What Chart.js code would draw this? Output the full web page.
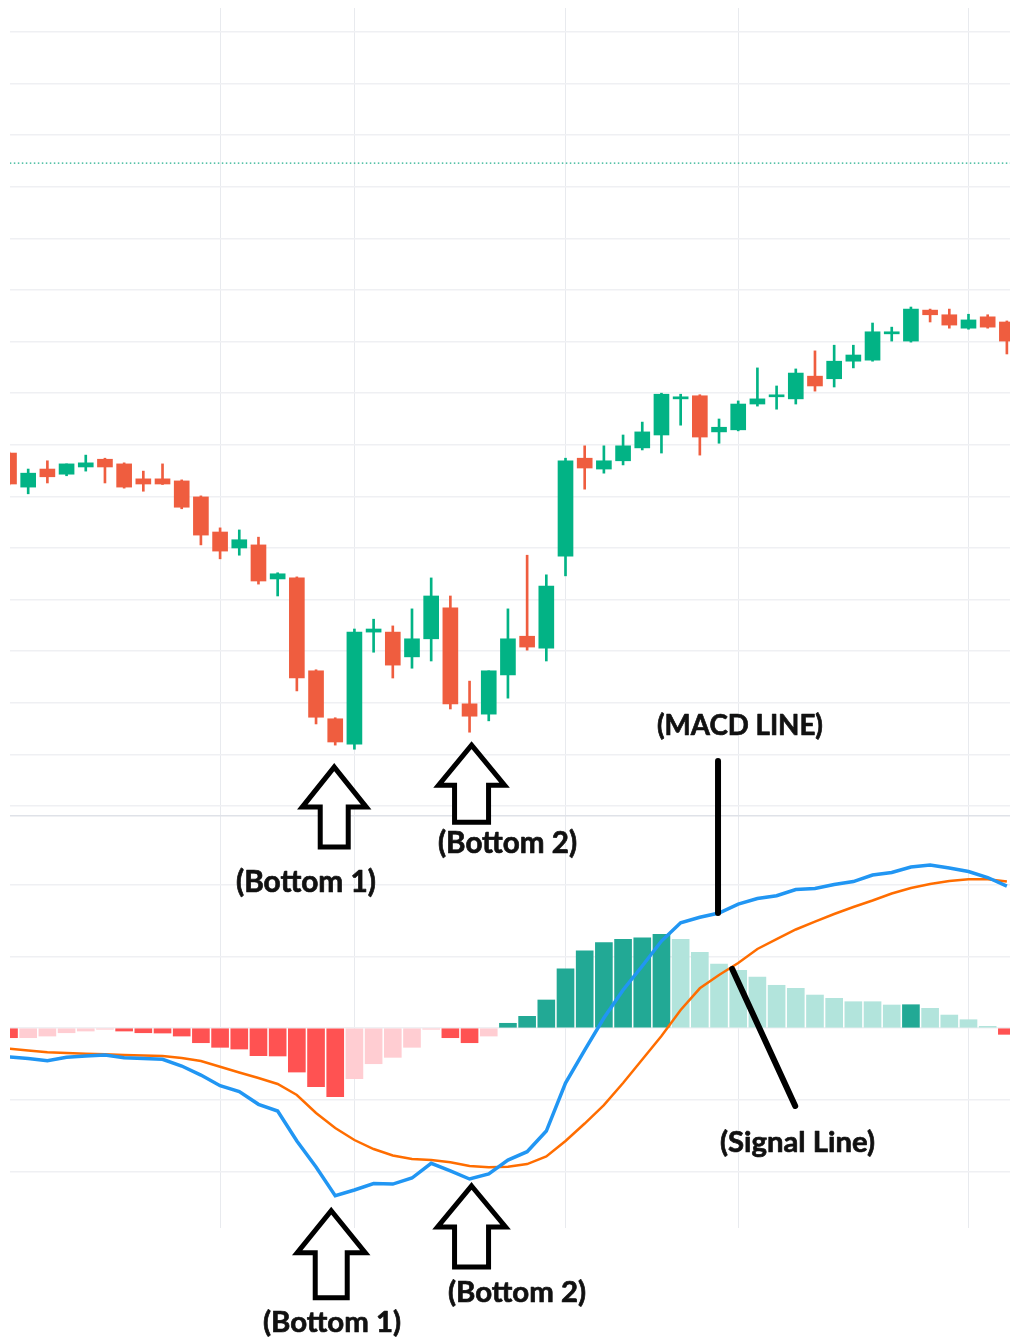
<!DOCTYPE html>
<html>
<head>
<meta charset="utf-8">
<script src="https://cdn.jsdelivr.net/npm/chart.js@4.4.1/dist/chart.umd.min.js"></script>
<style>
  html, body { margin: 0; padding: 0; background: #fff; }
  canvas { display: block; }
</style>
</head>
<body>
<canvas id="canvas" width="1010" height="1343"></canvas>
<script>
// daily candles, price axis in arbitrary units
const opens  = [118.4, 111.8, 115.3, 114.3, 115.7, 117.2, 116.3, 113.4, 113.4, 113.0,
                109.9, 103.1, 100.0, 100.6, 94.0, 94.2, 76.2, 66.9, 62.0, 83.7,
                83.7, 78.9, 82.4, 88.4, 69.8, 67.8, 75.4, 82.9, 80.6, 98.4,
                117.4, 115.3, 116.9, 119.4, 121.9, 128.9, 129.5, 122.5, 122.9, 127.9,
                129.3, 128.9, 133.3, 132.8, 136.2, 136.4, 141.5, 140.1, 146.1, 145.2,
                142.6, 144.8, 143.8];
const highs  = [118.6, 115.3, 116.9, 116.3, 118.0, 117.4, 116.5, 114.9, 116.3, 113.2,
                110.1, 103.9, 103.5, 102.1, 95.2, 94.4, 76.4, 67.1, 84.3, 86.2,
                84.9, 88.2, 94.2, 90.7, 74.2, 76.2, 88.2, 98.6, 94.8, 117.4,
                119.8, 119.8, 121.9, 124.4, 130.0, 129.8, 129.7, 125.0, 128.5, 134.9,
                131.4, 134.7, 138.2, 139.3, 139.3, 143.6, 142.8, 146.7, 146.3, 146.3,
                145.3, 145.2, 144.0];
const lows   = [112.2, 110.5, 112.6, 114.0, 114.9, 112.6, 111.6, 111.0, 112.3, 107.6,
                100.6, 97.9, 98.6, 93.0, 90.7, 72.3, 65.9, 61.8, 61.0, 79.8,
                74.8, 76.7, 78.1, 68.8, 64.3, 66.5, 70.9, 80.2, 78.1, 94.6,
                111.4, 114.5, 116.1, 119.0, 118.4, 123.8, 118.0, 120.3, 122.7, 127.5,
                126.9, 127.9, 130.4, 131.2, 134.9, 136.2, 140.1, 139.9, 143.8, 142.6,
                142.4, 142.6, 137.6];
const closes = [112.4, 114.5, 113.8, 116.3, 116.5, 115.7, 111.8, 112.4, 112.4, 107.9,
                102.5, 99.4, 101.6, 93.6, 95.0, 74.8, 67.2, 62.4, 83.7, 84.3,
                77.3, 82.4, 90.7, 69.8, 67.4, 76.2, 82.4, 80.8, 92.6, 116.9,
                115.5, 116.9, 119.8, 122.5, 129.8, 129.3, 121.5, 123.4, 127.9, 128.9,
                129.5, 133.9, 131.4, 136.2, 137.4, 141.9, 141.9, 146.3, 145.2, 143.2,
                144.2, 142.8, 140.1];

// MACD panel
const macdLine   = [-0.404, -0.425, -0.456, -0.409, -0.391, -0.377, -0.414, -0.425, -0.437, -0.530,
                    -0.656, -0.805, -0.886, -1.064, -1.158, -1.576, -1.939, -2.339, -2.259, -2.169,
                    -2.176, -2.092, -1.887, -1.994, -2.106, -2.036, -1.841, -1.725, -1.437, -0.767,
                    -0.307, 0.139, 0.530, 0.865, 1.213, 1.469, 1.544, 1.604, 1.729, 1.806,
                    1.845, 1.932, 1.946, 2.001, 2.043, 2.134, 2.169, 2.245, 2.273, 2.232,
                    2.183, 2.099, 1.980];
const signalLine = [-0.286, -0.314, -0.339, -0.349, -0.360, -0.367, -0.377, -0.384, -0.391, -0.418,
                    -0.460, -0.540, -0.621, -0.697, -0.781, -0.934, -1.185, -1.395, -1.562, -1.688,
                    -1.778, -1.827, -1.841, -1.873, -1.925, -1.943, -1.934, -1.897, -1.792, -1.576,
                    -1.332, -1.074, -0.767, -0.439, -0.112, 0.251, 0.554, 0.739, 0.907, 1.102,
                    1.241, 1.374, 1.485, 1.590, 1.688, 1.778, 1.876, 1.953, 2.008, 2.050,
                    2.074, 2.074, 2.043];
const histogram  = [-0.135, -0.135, -0.112, -0.066, -0.042, -0.018, -0.042, -0.066, -0.070, -0.112,
                    -0.205, -0.269, -0.293, -0.386, -0.390, -0.614, -0.819, -0.958, -0.707, -0.498,
                    -0.409, -0.269, -0.018, -0.135, -0.205, -0.112, 0.066, 0.163, 0.391, 0.827,
                    1.078, 1.190, 1.237, 1.259, 1.307, 1.237, 1.056, 0.893, 0.805, 0.711,
                    0.596, 0.554, 0.460, 0.414, 0.367, 0.367, 0.321, 0.325, 0.275, 0.181,
                    0.116, 0.024, -0.088];

const monthStarts = [11, 18, 29, 38, 50];
const priceGrid = [50, 60, 70, 80, 90, 100, 110, 120, 130, 140, 150, 160, 170, 180, 190, 200];
const macdGrid = [-2, -1, 0, 1, 2];
const alertLevel = 174.6;

const idx = opens.map((_, i) => i);
const upColor = '#02b385', downColor = '#ef5d3f';
const candleColors = idx.map(i => closes[i] >= opens[i] ? upColor : downColor);
const histColors = idx.map(i => {
  const v = histogram[i], prev = i > 0 ? histogram[i - 1] : 0;
  if (v >= 0) return v > prev ? '#22a995' : '#b2e4dc';
  return v < prev ? '#ff5252' : '#ffcdd2';
});

function upArrow(ctx, tx, ty, headHalf, headH, shaftHalf, total) {
  ctx.beginPath();
  ctx.moveTo(tx, ty);
  ctx.lineTo(tx + headHalf, ty + headH);
  ctx.lineTo(tx + shaftHalf, ty + headH);
  ctx.lineTo(tx + shaftHalf, ty + total);
  ctx.lineTo(tx - shaftHalf, ty + total);
  ctx.lineTo(tx - shaftHalf, ty + headH);
  ctx.lineTo(tx - headHalf, ty + headH);
  ctx.closePath();
  ctx.fillStyle = '#fff';
  ctx.fill();
  ctx.lineWidth = 5;
  ctx.lineJoin = 'miter';
  ctx.strokeStyle = '#000';
  ctx.stroke();
}

function label(ctx, text, left, baseline, width) {
  ctx.font = 'bold 100px Lato, "Open Sans", sans-serif';
  const size = 100 * width / ctx.measureText(text).width;
  ctx.font = 'bold ' + size.toFixed(1) + 'px Lato, "Open Sans", sans-serif';
  ctx.fillStyle = '#111';
  ctx.strokeStyle = '#111';
  ctx.lineWidth = 0.7;
  ctx.lineJoin = 'round';
  ctx.textBaseline = 'alphabetic';
  ctx.fillText(text, left, baseline);
  ctx.strokeText(text, left, baseline);
}

function pointer(ctx, x1, y1, x2, y2) {
  ctx.beginPath();
  ctx.moveTo(x1, y1);
  ctx.lineTo(x2, y2);
  ctx.lineWidth = 6;
  ctx.lineCap = 'round';
  ctx.strokeStyle = '#000';
  ctx.stroke();
}

const notes = {
  id: 'notes',
  afterDraw(chart) {
    const { ctx } = chart;
    const { x, price, macd } = chart.scales;
    ctx.save();
    // price panel bottoms
    upArrow(ctx, x.getPixelForValue(17) - 1, price.getPixelForValue(lows[17]) + 22, 32, 40, 14, 80);
    upArrow(ctx, x.getPixelForValue(24) + 2, price.getPixelForValue(lows[24]) + 13, 33, 40, 17, 77);
    label(ctx, '(Bottom 1)', 236, 892, 140);
    label(ctx, '(Bottom 2)', 438, 853, 139);
    // MACD panel bottoms
    upArrow(ctx, x.getPixelForValue(17) - 4, macd.getPixelForValue(macdLine[17]) + 15, 34, 42, 16, 87);
    upArrow(ctx, x.getPixelForValue(24) + 2, macd.getPixelForValue(macdLine[24]) + 7, 34, 41, 17, 81);
    label(ctx, '(Bottom 2)', 448, 1302, 138);
    label(ctx, '(Bottom 1)', 263, 1332, 138);
    // line callouts
    const mx = x.getPixelForValue(37) - 1, my = macd.getPixelForValue(macdLine[37]);
    pointer(ctx, mx, my - 152, mx, my);
    label(ctx, '(MACD LINE)', 657, 735, 166);
    const sx = x.getPixelForValue(38) - 6, sy = macd.getPixelForValue(signalLine[38]) + 6;
    pointer(ctx, sx, sy, sx + 63, sy + 137);
    label(ctx, '(Signal Line)', 720, 1152, 155);
    ctx.restore();
  }
};

const ctx = document.getElementById('canvas').getContext('2d');
new Chart(ctx, {
  type: 'bar',
  data: {
    datasets: [
      {
        type: 'bar', label: 'body', yAxisID: 'price', order: 1,
        data: idx.map(i => ({ x: i, y: [opens[i], closes[i]] })),
        backgroundColor: candleColors, barThickness: 15, grouped: false, minBarLength: 2
      },
      {
        type: 'bar', label: 'wick', yAxisID: 'price', order: 2,
        data: idx.map(i => ({ x: i, y: [lows[i], highs[i]] })),
        backgroundColor: candleColors, barThickness: 2, grouped: false
      },
      {
        type: 'line', label: 'level', yAxisID: 'price', order: 3,
        data: [{ x: -1, y: alertLevel }, { x: 53, y: alertLevel }],
        borderColor: '#1fae8c', borderWidth: 1.2, borderDash: [1.5, 2.5], pointRadius: 0
      },
      {
        type: 'bar', label: 'histogram', yAxisID: 'macd', order: 4,
        data: idx.map(i => ({ x: i, y: histogram[i] })),
        backgroundColor: histColors, barThickness: 17, grouped: false
      },
      {
        type: 'line', label: 'signal', yAxisID: 'macd', order: 1,
        data: idx.map(i => ({ x: i, y: signalLine[i] })),
        borderColor: '#ff6d00', borderWidth: 2.5, pointRadius: 0, tension: 0
      },
      {
        type: 'line', label: 'MACD', yAxisID: 'macd', order: 0,
        data: idx.map(i => ({ x: i, y: macdLine[i] })),
        borderColor: '#2196f3', borderWidth: 3.5, pointRadius: 0, tension: 0
      }
    ]
  },
  options: {
    responsive: false,
    animation: false,
    devicePixelRatio: 1,
    layout: { padding: { left: 10, top: 8, right: 0, bottom: 115 } },
    plugins: { legend: { display: false }, tooltip: { enabled: false } },
    scales: {
      x: {
        type: 'linear', min: 0.052, max: 52.163, offset: false,
        grid: { offset: false, color: '#e8eaee', lineWidth: 1, drawTicks: false },
        border: { display: false },
        ticks: { display: false },
        afterBuildTicks: s => { s.ticks = monthStarts.map(v => ({ value: v })); }
      },
      // stacked panes: the axis listed last is placed on top
      macd: {
        type: 'linear', position: 'left', stack: 'panes', stackWeight: 412,
        min: -2.789, max: 2.957,
        grid: {
          color: c => c.tick && c.tick.value === 2.957 ? '#dfe2e8' : '#eff0f3',
          lineWidth: 1.5, drawTicks: false
        },
        border: { display: false },
        ticks: { display: false },
        afterBuildTicks: s => { s.ticks = macdGrid.concat([2.957]).map(v => ({ value: v })); }
      },
      price: {
        type: 'linear', position: 'left', stack: 'panes', stackWeight: 808,
        min: 48.06, max: 204.65,
        grid: { color: '#eff0f3', lineWidth: 1.5, drawTicks: false },
        border: { display: false },
        ticks: { display: false },
        afterBuildTicks: s => { s.ticks = priceGrid.map(v => ({ value: v })); }
      }
    }
  },
  plugins: [notes]
});
</script>
</body>
</html>
